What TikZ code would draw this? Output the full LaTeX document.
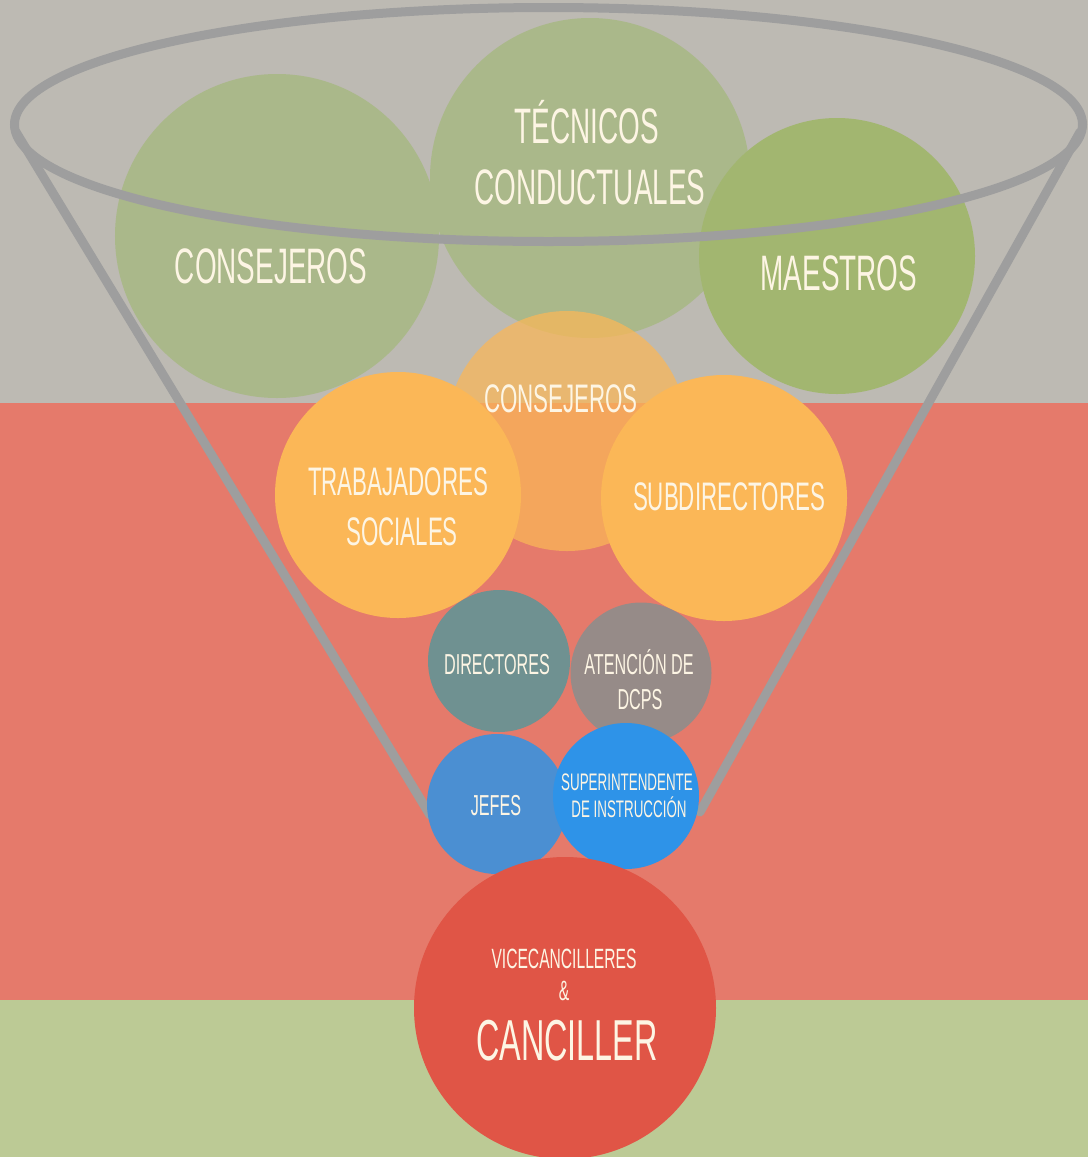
\documentclass[tikz,border=0pt]{standalone}
\usepackage{fontspec}
\setmainfont{Liberation Sans}[FakeStretch=0.56]
\definecolor{bgtop}{HTML}{BDBAB3}
\definecolor{bgmid}{HTML}{E57A6B}
\definecolor{bgbot}{HTML}{BCCA95}
\definecolor{greenA}{HTML}{AAB88A}
\definecolor{greenB}{HTML}{A2B670}
\definecolor{orangeA}{HTML}{FBB757}
\definecolor{tealc}{HTML}{6F9191}
\definecolor{taupe}{HTML}{968B88}
\definecolor{blueA}{HTML}{4B8FD2}
\definecolor{blueB}{HTML}{2E93E8}
\definecolor{redc}{HTML}{E05546}
\definecolor{cream}{HTML}{FDF5E4}
\definecolor{funnelc}{HTML}{9E9E9E}
\newcommand\fsBig{\fontsize{50}{60}\selectfont}
\newcommand\fsMed{\fontsize{40}{48}\selectfont}
\newcommand\fsSm{\fontsize{29}{34}\selectfont}
\newcommand\fsXs{\fontsize{24}{28}\selectfont}
\newcommand\fsVice{\fontsize{28}{32}\selectfont}
\newcommand\fsAmp{\fontsize{28}{32}\selectfont}
\newcommand\fsCan{\fontsize{58}{66}\selectfont}
\tikzset{
  bubble/.style={circle, inner sep=0pt, minimum size=#1},
  lbl/.style={text=cream, anchor=base, inner sep=0pt},
  rim/.style={draw=funnelc, line width=9bp},
  side/.style={draw=funnelc, line width=9bp, line cap=round},
}
\begin{document}
\begin{tikzpicture}[x=1bp,y=-1bp]
\useasboundingbox (0,0) rectangle (1088,1157);
% background bands
\fill[bgtop] (0,0) rectangle (1088,403);
\fill[bgmid] (0,403) rectangle (1088,1000);
\fill[bgbot] (0,1000) rectangle (1088,1157);
% funnel sides
\coordinate (lt) at (16,132);
\coordinate (lb) at (430,815);
\coordinate (rt) at (1080,132);
\coordinate (rb) at (700,812);
\draw[side] (lt) -- (lb);
\draw[side] (rt) -- (rb);
% top green bubbles
\node[bubble=324bp, fill=greenA] (cons1) at (277,236) {};
\node[bubble=320bp, fill=greenA] (tec) at (590,178) {};
\node[bubble=276bp, fill=greenB] (mae) at (837,256) {};
% funnel rim
\draw[rim] (548.5,124.5) ellipse [x radius=534, y radius=117];
% orange bubbles
\node[bubble=240bp, fill=orangeA, fill opacity=0.72] (cons2) at (567,431) {};
\node[bubble=246bp, fill=orangeA] (trab) at (398,495) {};
\node[bubble=246bp, fill=orangeA] (subd) at (724,498) {};
% small bubbles
\node[bubble=142bp, fill=tealc] (dir) at (499,661) {};
\node[bubble=141bp, fill=taupe] (aten) at (641,673) {};
\node[bubble=140bp, fill=blueA] (jef) at (497,804) {};
\node[bubble=146bp, fill=blueB] (sup) at (626,796) {};
\node[bubble=302bp, fill=redc] (can) at (565,1008) {};
% labels
\node[lbl, font=\fsBig] (tcons1) at (271,283) {CONSEJEROS};
\node[lbl, font=\fsBig] (ttec1) at (587,143) {TÉCNICOS};
\node[lbl, font=\fsBig] (ttec2) at (590,204) {CONDUCTUALES};
\node[lbl, font=\fsBig] (tmae) at (839,290) {MAESTROS};
\node[lbl, font=\fsMed] (tcons2) at (561,412) {CONSEJEROS};
\node[lbl, font=\fsMed] (ttrab1) at (398,495) {TRABAJADORES};
\node[lbl, font=\fsMed] (ttrab2) at (402,545) {SOCIALES};
\node[lbl, font=\fsMed] (tsubd) at (729,510) {SUBDIRECTORES};
\node[lbl, font=\fsSm] (tdir) at (497,674) {DIRECTORES};
\node[lbl, font=\fsSm] (taten1) at (639,674) {ATENCIÓN DE};
\node[lbl, font=\fsSm] (taten2) at (640,709) {DCPS};
\node[lbl, font=\fsSm] (tjef) at (496,815) {JEFES};
\node[lbl, font=\fsXs] (tsup1) at (627,790) {SUPERINTENDENTE};
\node[lbl, font=\fsXs] (tsup2) at (629,817) {DE INSTRUCCIÓN};
\node[lbl, font=\fsVice] (tvice) at (564,968) {VICECANCILLERES};
\node[lbl, font=\fsAmp] (tamp) at (564,1000) {\&};
\node[lbl, font=\fsCan] (tcan) at (567,1060) {CANCILLER};
\end{tikzpicture}
\end{document}
